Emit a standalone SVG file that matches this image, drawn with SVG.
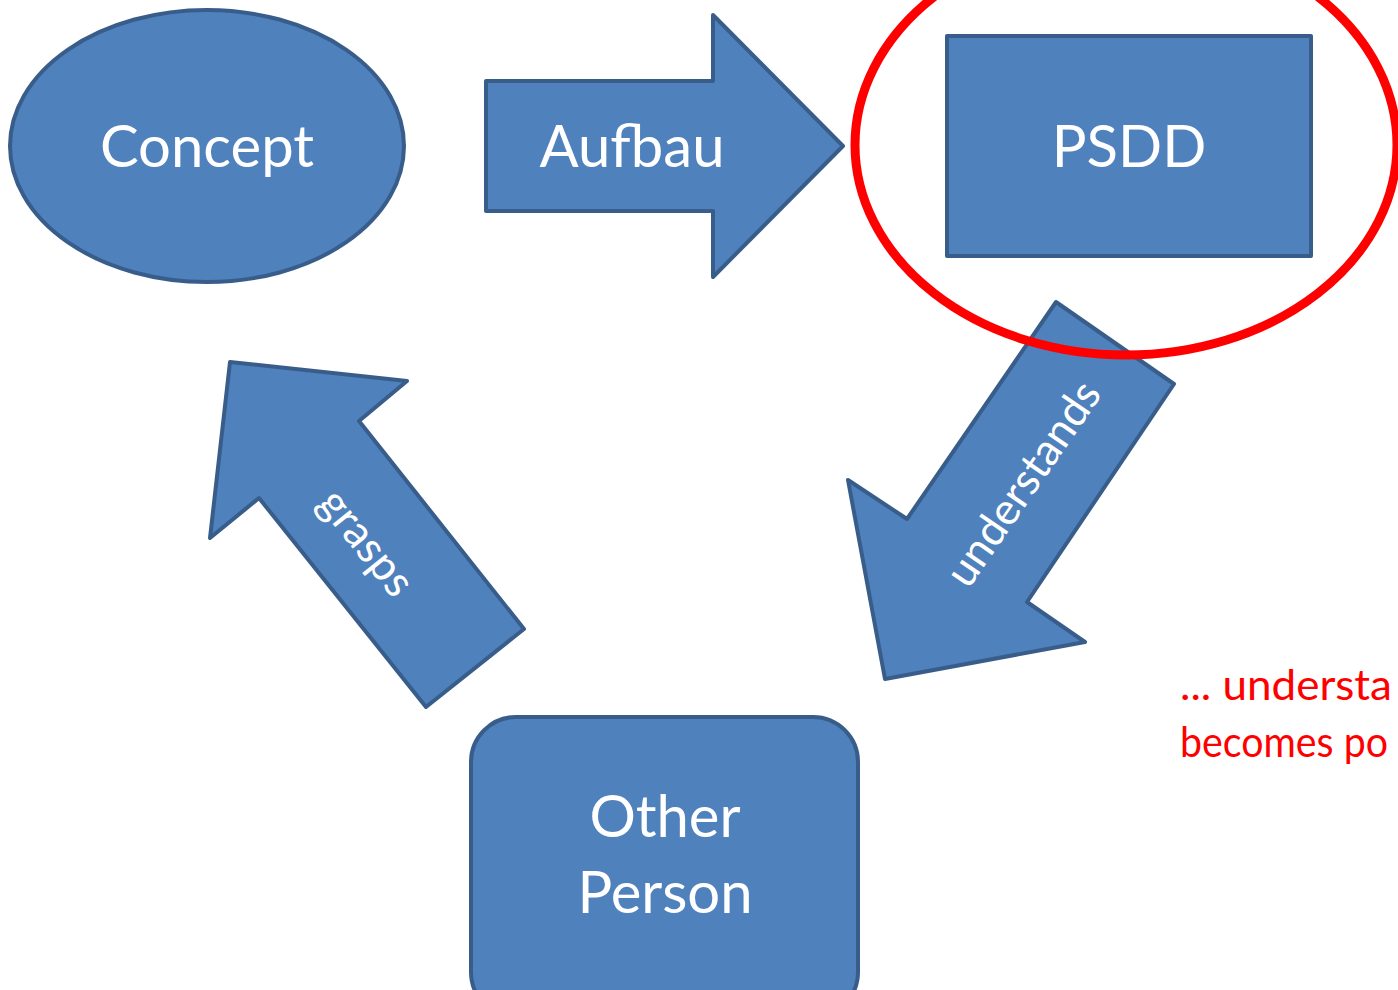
<svg xmlns="http://www.w3.org/2000/svg" width="1398" height="990" viewBox="0 0 1398 990">
  <style>
    .shape { fill: #4F81BD; stroke: #385D8A; stroke-width: 4; stroke-linejoin: round; }
    .label { fill: #FFFFFF; font-family: Lato, "Open Sans", sans-serif; text-anchor: middle; }
    .big { font-size: 58px; }
    .small { font-size: 44px; }
    .note { fill: #FF0000; font-family: Lato, "Open Sans", sans-serif; font-size: 43px; }
  </style>
  <rect width="1398" height="990" fill="#FFFFFF"/>

  <g id="connectors">
    <g id="arrow-aufbau">
      <polygon class="shape" points="486,81 713,81 713,15 843,146 713,277 713,211 486,211"/>
      <text class="label big" x="632" y="167">Aufbau</text>
    </g>
    <g id="arrow-understands">
      <polygon class="shape" points="1056,302 1174,384 1027,602 1085,642 885,679 848,480 907,519"/>
      <text class="label small" transform="translate(1024,484) rotate(-55.5)" y="14">understands</text>
    </g>
    <g id="arrow-grasps">
      <polygon class="shape" points="230,362 407,381 359,421 524,629 426,707 259,498 210,538"/>
      <text class="label small" transform="translate(366,543) rotate(51.3)" y="14">grasps</text>
    </g>
  </g>

  <g id="node-concept">
    <ellipse class="shape" cx="207" cy="146" rx="197" ry="136"/>
    <text class="label big" x="207" y="167">Concept</text>
  </g>

  <g id="node-psdd">
    <rect class="shape" x="947" y="36" width="364" height="220"/>
    <text class="label big" x="1129" y="167">PSDD</text>
  </g>

  <g id="node-other-person">
    <rect class="shape" x="471" y="717" width="387" height="300" rx="45" ry="45"/>
    <text class="label big" x="665" y="837">Other</text>
    <text class="label big" x="665" y="913">Person</text>
  </g>

  <g id="highlight">
    <ellipse cx="1126" cy="145" rx="271" ry="210" fill="none" stroke="#FF0000" stroke-width="9"/>
  </g>

  <g id="note">
    <text class="note" x="1180" y="700" textLength="212" lengthAdjust="spacingAndGlyphs">... understa</text>
    <text class="note" x="1180" y="757" textLength="208" lengthAdjust="spacingAndGlyphs">becomes po</text>
  </g>
</svg>
